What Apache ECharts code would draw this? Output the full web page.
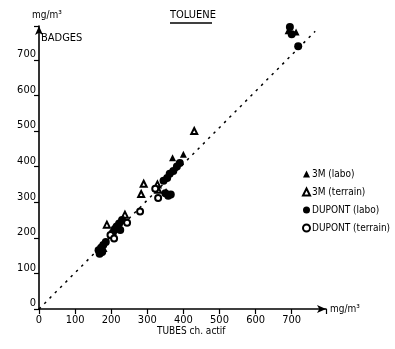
<!DOCTYPE html>
<html>
<head>
<meta charset="utf-8">
<script src="https://cdn.jsdelivr.net/npm/echarts@6/dist/echarts.min.js"></script>
<style>
html,body{margin:0;padding:0;background:#fff;}
#chart{width:395px;height:349px;}
</style>
</head>
<body>
<div id="chart"></div>
<script>
// valeurs (x = tubes charbon actif, y = badges), mg/m3
var seriesNames = ['3M (labo)', '3M (terrain)', 'DUPONT (labo)', 'DUPONT (terrain)'];
var m3Labo = [[690,782],[712,778],[400,435],[370,425],[352,330],[215,238],[180,170]];
var m3Terrain = [[430,500],[290,352],[283,323],[328,350],[330,335],[238,265],[188,237]];
var dupontLabo = [[695,792],[700,772],[718,738],[390,410],[382,400],[372,388],[362,380],[355,368],
	[345,360],[350,325],[358,318],[365,322],[230,250],[222,240],[215,232],[210,225],[225,222],
	[205,215],[185,188],[178,180],[172,172],[165,165],[175,160],[168,155]];
var dupontTerrain = [[280,274],[244,242],[198,208],[208,198],[330,312],[322,338]];
var refLine = [[0,0],[765,780]];
var ticks = [0,100,200,300,400,500,600,700];

var font = '"Liberation Sans Narrow","DejaVu Sans Condensed",sans-serif';
var chart = echarts.init(document.getElementById('chart'));

var axisCommon = {
	type: 'value', min: 0, max: 795, interval: 100,
	splitLine: {show: false},
	axisLine: {show: true, symbol: ['none','arrow'], symbolSize: [6,9], lineStyle: {color: '#000', width: 1.6}},
	axisTick: {show: true, length: 5, lineStyle: {color: '#000', width: 1.2}},
	axisLabel: {color: '#000', fontFamily: font, fontSize: 11,
		formatter: function(v){ return ticks.indexOf(v) >= 0 ? String(v) : ''; }},
	nameTextStyle: {color: '#000', fontFamily: font, fontSize: 10}
};

var option = {
	animation: false,
	backgroundColor: '#fff',
	grid: {left: 39, top: 26, width: 287, height: 283},
	xAxis: Object.assign({}, axisCommon, {name: 'mg/m³', nameLocation: 'end', nameGap: 4,
		axisLabel: Object.assign({}, axisCommon.axisLabel, {margin: 6})}),
	yAxis: Object.assign({}, axisCommon, {name: 'mg/m³', nameLocation: 'end', nameGap: 6,
		nameTextStyle: {color: '#000', fontFamily: font, fontSize: 10, align: 'left', padding: [0,0,0,-7]},
		axisLabel: Object.assign({}, axisCommon.axisLabel, {margin: 3, verticalAlign: 'bottom'})}),
	legend: {
		orient: 'vertical', left: 297, top: 164, itemWidth: 7, itemHeight: 7, itemGap: 8,
		textStyle: {color: '#000', fontFamily: font, fontSize: 10, padding: [0,0,0,-3]},
		data: [
			{name: seriesNames[0], icon: 'triangle'},
			{name: seriesNames[1], icon: 'emptyTriangle', itemStyle: {borderWidth: 1}},
			{name: seriesNames[2], icon: 'circle'},
			{name: seriesNames[3], icon: 'emptyCircle', itemStyle: {borderWidth: 1}}
		]
	},
	graphic: [
		{type: 'text', left: 41, top: 33, style: {text: 'BADGES', font: '11px ' + font, fill: '#000'}},
		{type: 'text', left: 170, top: 10, style: {text: 'TOLUENE', font: '11px ' + font, fill: '#000'}},
		{type: 'line', shape: {x1: 170, y1: 23, x2: 212, y2: 23}, style: {stroke: '#000', lineWidth: 1.3}},
		{type: 'text', left: 157, top: 326, style: {text: 'TUBES ch. actif', font: '10px ' + font, fill: '#000'}}
	],
	series: [
		{type: 'line', data: refLine, showSymbol: false, silent: true, z: 1,
			lineStyle: {color: '#000', width: 1.5, type: [2.5,5]}},
		{name: seriesNames[0], type: 'scatter', data: m3Labo, symbol: 'triangle', symbolSize: 7,
			itemStyle: {color: '#000', opacity: 1}},
		{name: seriesNames[1], type: 'scatter', data: m3Terrain, symbol: 'emptyTriangle', symbolSize: 6,
			itemStyle: {color: '#000', borderWidth: 1.2, opacity: 1}},
		{name: seriesNames[2], type: 'scatter', data: dupontLabo, symbol: 'circle', symbolSize: 8,
			itemStyle: {color: '#000', opacity: 1}},
		{name: seriesNames[3], type: 'scatter', data: dupontTerrain, symbol: 'emptyCircle', symbolSize: 6,
			itemStyle: {color: '#000', borderWidth: 1.3, opacity: 1}}
	]
};
chart.setOption(option);
</script>
</body>
</html>
